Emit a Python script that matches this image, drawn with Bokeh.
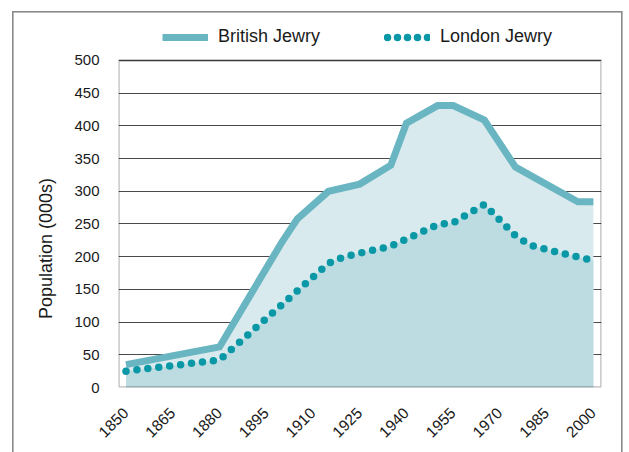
import math
from bokeh.plotting import figure
from bokeh.models import (ColumnDataSource, FixedTicker, Legend, LegendItem, Range1d,
                          BoxAnnotation)
from bokeh.embed import file_html
from bokeh.resources import INLINE

# ---- data (population in thousands) ----
british_years = [1850, 1880, 1900, 1905, 1915, 1925, 1935, 1940, 1950, 1955, 1965, 1975, 1995, 2000]
british_pop = [35, 62, 222, 258, 300, 311, 340, 404, 431, 431, 409, 337, 284, 284]

london_years = [1850, 1880, 1915, 1920, 1935, 1950, 1955, 1965, 1970, 1975, 1980, 1990, 2000]
london_pop = [25, 42, 190, 200, 216, 249, 252, 280, 256, 232, 217, 205, 194]

x_ticks = [1850, 1865, 1880, 1895, 1910, 1925, 1940, 1955, 1970, 1985, 2000]
y_ticks = [0, 50, 100, 150, 200, 250, 300, 350, 400, 450, 500]

series_names = ["British Jewry", "London Jewry"]
y_title = "Population (000s)"

FONT = "Liberation Sans"
TEXT = "#1a1a1a"
LINE_B = "#69b5c1"
FILL_B = "#d8eaed"
FILL_L = "#bcdce2"
DOT_L = "#0a98a6"

X0, X1 = 1847.6, 2002.6
Y_TOP = 570.3   # extra head-room above 500 holds the legend

g = "linear-gradient(#8a8a8a, #8a8a8a)"
border_bg = ", ".join([
    f"{g} 12px 11px / 1.6px 100% no-repeat",
    f"{g} 12px 11px / 610px 1.6px no-repeat",
    f"{g} 620.5px 11px / 1.6px 100% no-repeat",
    "white",
])

p = figure(
    frame_width=483, frame_height=373,
    min_border_left=118, min_border_right=25, min_border_top=14, min_border_bottom=65,
    x_range=Range1d(X0, X1), y_range=Range1d(0, Y_TOP),
    output_backend="svg", toolbar_location=None,
)
p.styles = {"background": border_bg}
p.background_fill_color = "white"
p.border_fill_alpha = 0
p.outline_line_color = None

src_b = ColumnDataSource(dict(x=british_years, y=british_pop))
src_l = ColumnDataSource(dict(x=london_years, y=london_pop))

p.varea(x="x", y1=0, y2="y", source=src_b, fill_color=FILL_B)
p.varea(x="x", y1=0, y2="y", source=src_l, fill_color=FILL_L)

rb = p.line("x", "y", source=src_b, line_color=LINE_B, line_width=7, line_join="miter")
rl = p.line("x", "y", source=src_l, line_color=DOT_L, line_width=7.5,
            line_dash="0 11", line_cap="round")

# proxy renderer (no visible points) giving a legend swatch of five whole dots
nan = float("nan")
rl_key = p.line(x=[nan, nan], y=[nan, nan], line_color=DOT_L, line_width=7.5,
                line_dash="0 10", line_dash_offset=7, line_cap="round")

# box around the 0-500 plotting area
p.add_layout(BoxAnnotation(left=X0, right=X1, bottom=0, top=500,
                           fill_alpha=0, line_color="#1a1a1a", line_width=2.4))

# axes
p.xaxis.ticker = FixedTicker(ticks=x_ticks)
p.yaxis.ticker = FixedTicker(ticks=y_ticks)
p.xgrid.grid_line_color = None
p.ygrid.grid_line_color = "#4a4a4a"
p.ygrid.grid_line_width = 1

for ax in (p.xaxis[0], p.yaxis[0]):
    ax.axis_line_color = None
    ax.major_tick_line_color = None
    ax.minor_tick_line_color = None
    ax.major_tick_out = 0
    ax.major_tick_in = 0
    ax.minor_tick_out = 0
    ax.major_label_text_font = FONT
    ax.major_label_text_color = TEXT

p.xaxis.major_label_text_font_size = "15.5px"
p.yaxis.major_label_text_font_size = "15px"
p.xaxis.major_label_orientation = math.pi / 4
p.xaxis.major_label_standoff = 23
p.yaxis.major_label_standoff = 19

p.yaxis.axis_label = y_title + "\u00a0" * 19
p.yaxis.axis_label_text_font = FONT
p.yaxis.axis_label_text_font_size = "18px"
p.yaxis.axis_label_text_font_style = "normal"
p.yaxis.axis_label_text_color = TEXT
p.yaxis.axis_label_standoff = 15

# legend in the head-room above the 500 line
legend = Legend(
    items=[LegendItem(label=series_names[0], renderers=[rb]),
           LegendItem(label=series_names[1], renderers=[rl_key])],
    location=(44, 340), orientation="horizontal",
    glyph_width=46, glyph_height=20, label_standoff=10, spacing=64,
    padding=0, margin=0, border_line_color=None, background_fill_alpha=0,
    label_text_font=FONT, label_text_font_size="18px", label_text_color=TEXT,
)
p.add_layout(legend)

open("out.html", "w").write(file_html(p, INLINE))
